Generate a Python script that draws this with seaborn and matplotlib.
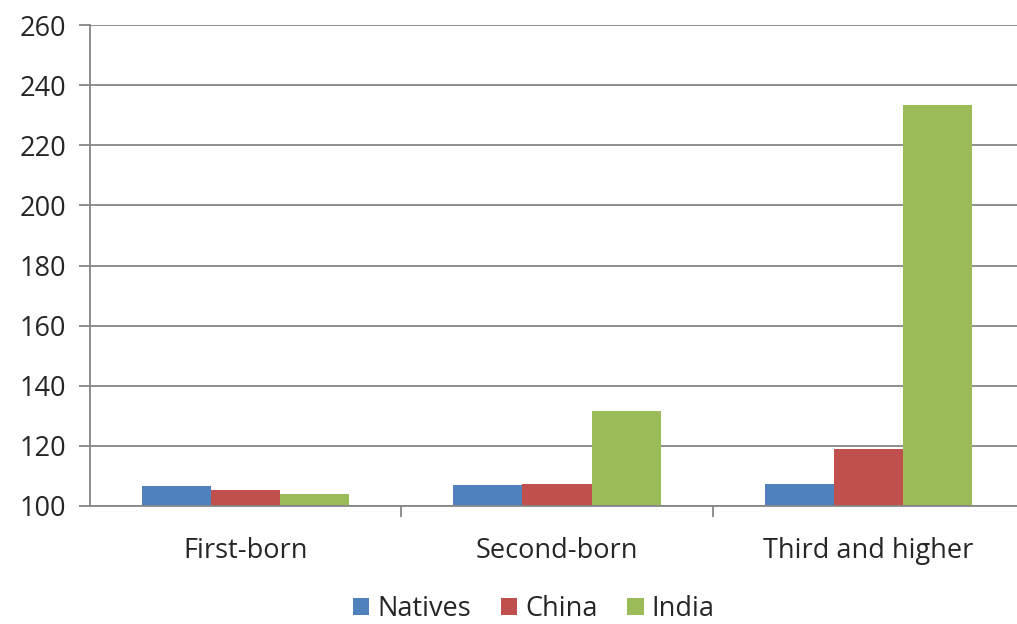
import numpy as np
import pandas as pd
import seaborn as sns
from matplotlib import pyplot as plt

# birth order vs sex ratio, by mother's origin
categories = ['First-born', 'Second-born', 'Third and higher']
origins = ['Natives', 'China', 'India']
natives = [106.5, 106.9, 107.3]
china = [105.2, 107.3, 118.8]
india = [104.0, 131.5, 233.3]
colors = ['#4F81BD', '#C0504D', '#9BBB59']

df = pd.DataFrame({
    'category': categories * 3,
    'origin': np.repeat(origins, 3),
    'value': natives + china + india,
})

sns.set_style('white')
plt.rcParams['font.family'] = ['Open Sans', 'DejaVu Sans']

fig = plt.figure(figsize=(10.17, 6.24), dpi=100)
ax = fig.add_axes([90 / 1017, 1 - 506 / 624, 934 / 1017, 481 / 624])

sns.barplot(data=df, x='category', y='value', hue='origin', palette=colors,
            width=0.667, gap=0, saturation=1, linewidth=0, ax=ax, legend=True)

ax.set_ylim(100, 260)
ax.set_xlim(-0.5, 2.5)
ax.set_yticks(range(100, 261, 20))
ax.yaxis.grid(True, color='#868686', linewidth=1.3)
ax.set_axisbelow(True)
ax.set_xlabel('')
ax.set_ylabel('')

for s in ['top', 'right']:
    ax.spines[s].set_visible(False)
for s in ['left', 'bottom']:
    ax.spines[s].set_color('#868686')
    ax.spines[s].set_linewidth(1.3)

ax.tick_params(axis='y', labelsize=19.5, length=8, width=1.3, color='#868686', pad=9, left=True)
ax.tick_params(axis='x', which='major', labelsize=19.5, length=0, pad=22)
ax.set_xticks([0.5, 1.5, 2.5], minor=True)
ax.tick_params(axis='x', which='minor', length=8, width=1.3, color='#868686', bottom=True)

ax.legend(loc='upper center', bbox_to_anchor=(0.475, -0.135), ncol=3, frameon=False,
          fontsize=19.5, handlelength=0.6, handleheight=0.6, handletextpad=0.3,
          columnspacing=1.1)

plt.savefig('out.png', dpi=100)
